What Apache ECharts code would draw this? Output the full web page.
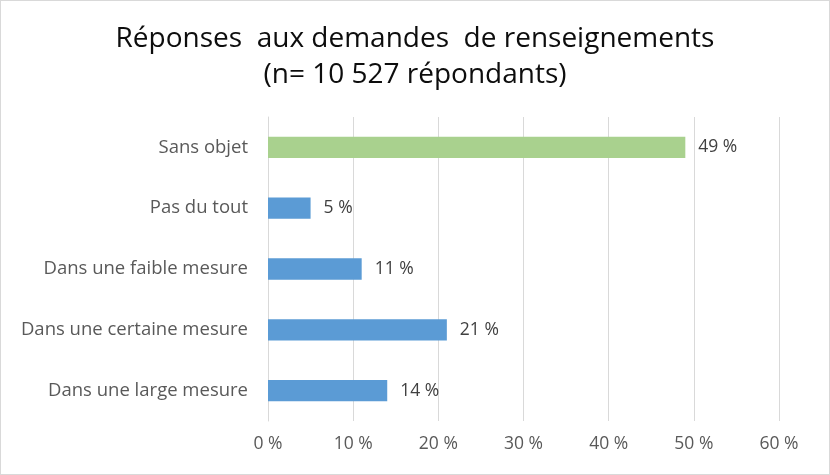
<!DOCTYPE html>
<html><head><meta charset="utf-8">
<script src="https://cdn.jsdelivr.net/npm/echarts@6/dist/echarts.min.js"></script>
<style>html,body{margin:0;padding:0;background:#fff}#c{width:828px;height:473px;border:1px solid #d9d9d9}</style>
</head><body><div id="c"></div>
<script>
const categories = ["Dans une large mesure","Dans une certaine mesure","Dans une faible mesure","Pas du tout","Sans objet"];
const values = [14, 21, 11, 5, 49];
const barColors = ["#5B9BD5","#5B9BD5","#5B9BD5","#5B9BD5","#A9D18E"];
const titleLines = ["Réponses  aux demandes  de renseignements","(n= 10 527 répondants)"];
const chart = echarts.init(document.getElementById('c'));
const font = "'Open Sans', sans-serif";
chart.setOption({
  animation:false,
  title:{text:titleLines.join('\n'),left:'center',top:15,textStyle:{fontFamily:font,fontSize:28,fontWeight:'normal',color:'#0d0d0d',lineHeight:36}},
  grid:{left:267,right:50,top:116,bottom:53,containLabel:false},
  xAxis:{type:'value',min:0,max:60,interval:10,
    axisLabel:{formatter:v=>v+' %',color:'#595959',fontFamily:font,fontSize:17.5,margin:14},
    splitLine:{lineStyle:{color:'#d9d9d9',width:1}},axisLine:{show:false},axisTick:{show:false}},
  yAxis:{type:'category',data:categories,
    axisLabel:{color:'#595959',fontFamily:font,fontSize:18.5,margin:20},
    axisLine:{show:true,lineStyle:{color:'#d9d9d9'}},axisTick:{show:false}},
  series:[{type:'bar',data:values.map((v,i)=>({value:v,itemStyle:{color:barColors[i]}})),
    barCategoryGap:'65%',
    label:{show:true,position:'right',distance:13,formatter:p=>p.value+' %',color:'#404040',fontFamily:font,fontSize:17.5}}]
});
</script></body></html>
